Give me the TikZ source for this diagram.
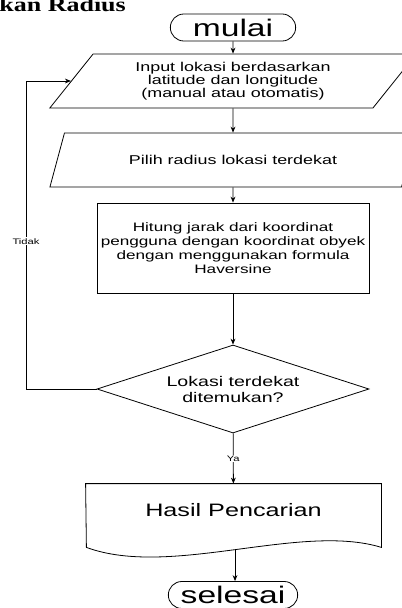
\documentclass[tikz,border=0pt]{standalone}
\usepackage{fontspec}
\setmainfont{Liberation Sans}
\newfontfamily\flowfont[FakeStretch=1.4]{Liberation Sans}
\newfontfamily\headfont[FakeStretch=1.3]{Liberation Serif}
\usetikzlibrary{positioning,arrows.meta,shapes.geometric,shapes.misc}

\begin{document}
\begin{tikzpicture}[
  x=0.75pt, y=-0.75pt,
  ->,>={Stealth[length=4.5pt,width=3.6pt]},
  line width=0.6pt,
  every node/.style={align=center, inner sep=1pt},
  terminal/.style={draw, rounded rectangle, minimum width=96pt,
                   minimum height=20.25pt, font=\flowfont\fontsize{18}{20}\selectfont},
  io/.style={draw, trapezium, trapezium left angle=53, trapezium right angle=127,
             trapezium stretches=true, minimum width=275pt, minimum height=40.5pt,
             font=\flowfont\fontsize{9.6}{9.75}\selectfont},
  process/.style={draw, rectangle, minimum width=204pt, minimum height=67.5pt,
                  font=\flowfont\fontsize{9.2}{10.5}\selectfont},
  decision/.style={draw, diamond, shape aspect=3.1, minimum width=204pt,
                   minimum height=66pt, font=\flowfont\fontsize{10.5}{12}\selectfont},
  docbox/.style={rectangle, minimum width=221.25pt, minimum height=39.75pt,
                 font=\flowfont\fontsize{13.5}{15}\selectfont},
  lbl/.style={fill=white, font=\flowfont\fontsize{6}{7}\selectfont, inner sep=0.6pt},
]
  \useasboundingbox (0,0) rectangle (402,608);
  \clip (0,0) rectangle (402,608);

  % Heading (cut at the top)
  \node[anchor=base west, inner sep=0pt, font=\headfont\bfseries\fontsize{15}{17}\selectfont]
    (head) at (-1,11) {kan Radius};

  % Shapes
  \node[terminal] (mulai) at (233,27.5) {mulai};
  \node[io] (input) at (233,81) {Input lokasi berdasarkan\\latitude dan longitude\\(manual atau otomatis)};
  \node[io] (radius) at (233,160) {Pilih radius lokasi terdekat};
  \node[process] (hitung) at (233,248) {Hitung jarak dari koordinat\\pengguna dengan koordinat obyek\\dengan menggunakan formula\\Haversine};
  \node[decision] (cek) at (233,389) {Lokasi terdekat\\ditemukan?};
  \node[docbox] (hasil) at (233.5,510.5) {Hasil Pencarian};
  \node[terminal, minimum width=99pt] (selesai) at (233,595) {selesai};

  % Document outline with wavy bottom
  \draw[-] (hasil.north west) -- (hasil.north east) -- (hasil.south east) -- ++(0,10)
    .. controls ++(-81,-25) and ++(84,31) .. coordinate[pos=0.5] (hasilend) ++(-295,0) -- cycle;

  % Arrows
  \draw (mulai) -- (input);
  \draw (input) -- (radius);
  \draw (radius) -- (hitung);
  \draw (hitung) -- (cek);
  \draw (cek) -- node[lbl] {Ya} (hasil);
  \draw (hasilend) -- (hasilend |- selesai.north);

  % Loop back
  \coordinate (loop) at (26,0 |- input.west);
  \draw (cek.west) -| node[lbl, pos=0.74] {Tidak} (loop) -- (input.west);
\end{tikzpicture}
\end{document}
